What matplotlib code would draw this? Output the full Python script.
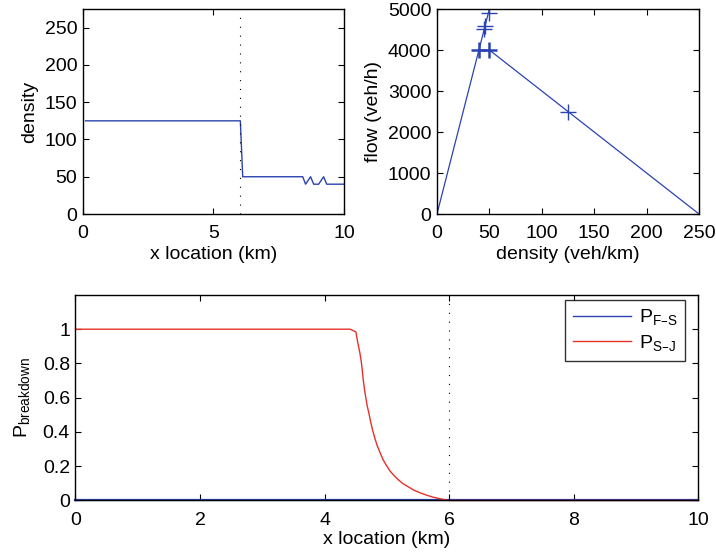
import matplotlib
matplotlib.use('Agg')
import matplotlib.pyplot as plt
import numpy as np

plt.rcParams['font.family'] = ['Liberation Sans', 'DejaVu Sans']
plt.rcParams['mathtext.default'] = 'regular'
plt.rcParams['font.size'] = 14

# density profile along the road (km, veh/km)
dens_x = [0.1, 6.03, 6.12, 8.42, 8.53, 8.72, 8.84, 9.03, 9.22, 9.34, 10.0]
dens_y = [125, 125, 50, 50, 40, 50, 40, 40, 50, 40, 40]

# fundamental diagram
fd_free_k = [0, 50]
fd_free_q = [0, 5000]
fd_cong_k = [50, 250]
fd_cong_q = [4000, 0]
pts_k = [45.3, 45.7, 49.6, 125]
pts_q = [4520, 4580, 4900, 2500]
bold_k = [40, 50]
bold_q = [4000, 4000]

# breakdown probabilities
p_x = [0, 4.41, 4.502, 4.524, 4.545, 4.567, 4.588, 4.604, 4.620, 4.641, 4.663,
       4.684, 4.711, 4.738, 4.770, 4.807, 4.845, 4.888, 4.941, 4.995, 5.048,
       5.112, 5.182, 5.262, 5.342, 5.433, 5.530, 5.637, 5.744, 5.878, 6.0, 10.0]
p_sj = [1, 1, 0.984, 0.937, 0.898, 0.859, 0.811, 0.762, 0.704, 0.645, 0.596,
        0.551, 0.509, 0.460, 0.411, 0.362, 0.319, 0.281, 0.236, 0.203, 0.173,
        0.146, 0.121, 0.097, 0.080, 0.060, 0.045, 0.031, 0.019, 0.008, 0, 0]
p_fs_x = [0, 10]
p_fs = [0, 0]

blue = '#2b43b0'
red = '#e8302a'
bound_x = 6
dots = (0, (1, 7))


def style(ax):
    ax.tick_params(direction='in', top=True, right=True, length=4, width=0.8,
                   labelsize=14)
    ax.tick_params(axis='x', pad=8)
    ax.tick_params(axis='y', pad=4)
    for s in ax.spines.values():
        s.set_linewidth(1.0)


fig = plt.figure(figsize=(7.16, 5.54), dpi=100)

ax1 = fig.add_axes([0.1159, 0.6137, 0.3645, 0.370])
ax1.plot(dens_x, dens_y, color=blue, lw=1)
ax1.axvline(bound_x, color='k', ls=dots, lw=0.8)
ax1.set_xlim(0, 10)
ax1.set_ylim(0, 275)
ax1.set_xticks([0, 5, 10])
ax1.set_yticks(range(0, 251, 50))
ax1.set_xlabel('x location (km)', labelpad=3)
ax1.set_ylabel('density', labelpad=5)
style(ax1)

ax2 = fig.add_axes([0.6103, 0.6137, 0.366, 0.370])
ax2.plot(fd_free_k, fd_free_q, color=blue, lw=0.9)
ax2.plot(fd_cong_k, fd_cong_q, color=blue, lw=0.9)
ax2.plot(pts_k, pts_q, '+', color=blue, ms=11, mew=1.0, ls='none')
ax2.plot(bold_k, bold_q, '+', color=blue, ms=12, mew=1.8, ls='none')
ax2.set_xlim(0, 250)
ax2.set_ylim(0, 5000)
ax2.set_xticks(range(0, 251, 50))
ax2.set_yticks(range(0, 5001, 1000))
ax2.set_xlabel('density (veh/km)', labelpad=3)
ax2.set_ylabel('flow (veh/h)', labelpad=4)
style(ax2)

ax3 = fig.add_axes([0.1054, 0.0966, 0.870, 0.371])
ax3.plot(p_fs_x, p_fs, color=blue, lw=1.6, label='P$_{F\u2013S}$', clip_on=False)
ax3.plot(p_x, p_sj, color=red, lw=1, label='P$_{S\u2013J}$', clip_on=False)
ax3.axvline(bound_x, color='k', ls=dots, lw=0.8)
ax3.set_xlim(0, 10)
ax3.set_ylim(0, 1.2)
ax3.set_xticks(range(0, 11, 2))
ax3.set_yticks([0, 0.2, 0.4, 0.6, 0.8, 1])
ax3.set_yticklabels(['0', '0.2', '0.4', '0.6', '0.8', '1'])
ax3.set_xlabel('x location (km)', labelpad=2)
ax3.set_ylabel('P$_{breakdown}$', labelpad=8)
style(ax3)
leg = ax3.legend(loc='upper right', bbox_to_anchor=(0.979, 0.977),
                 frameon=True, fancybox=False, borderaxespad=0,
                 handlelength=3.0, handletextpad=0.4,
                 borderpad=0.4, labelspacing=0.3)
leg.get_frame().set_edgecolor('k')
leg.get_frame().set_linewidth(1.0)
for ln in leg.get_lines():
    ln.set_linewidth(1.0)

fig.savefig('out.png', dpi=100)
